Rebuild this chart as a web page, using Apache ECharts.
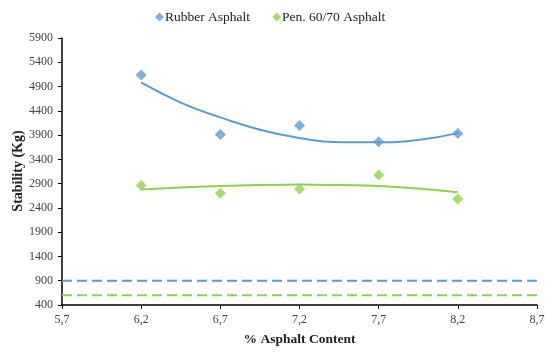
<!DOCTYPE html>
<html><head><meta charset="utf-8">
<script src="https://cdn.jsdelivr.net/npm/echarts@6/dist/echarts.min.js"></script>
<style>html,body{margin:0;padding:0;background:#fff}#c{width:545px;height:352px}</style>
</head><body><div id="c"></div>
<script>
const asphaltContent = [6.2, 6.7, 7.2, 7.7, 8.2];
const rubberStability = [5140, 3910, 4100, 3765, 3935];
const penStability = [2860, 2700, 2790, 3080, 2585];
// trendlines
const trendX = [6.2, 6.45, 6.7, 6.95, 7.2, 7.45, 7.7, 7.95, 8.2];
const rubberTrend = [4985, 4570, 4265, 4010, 3841, 3755, 3750, 3800, 3940];
const penTrend = [2777, 2820, 2850, 2870, 2880, 2870, 2850, 2800, 2725];
const limitX = [5.7, 8.7];
const rubberLimit = 900;
const penLimit = 600;
const yTitle = 'Stability (Kg)';
const blue = '#5B9BD5', green = '#92D050';
const serif = '"Liberation Serif", "Times New Roman", serif';

const pair = (xs, ys) => xs.map((x, i) => [x, ys[i]]);
const chart = echarts.init(document.getElementById('c'));
chart.setOption({
  animation: false,
  textStyle: { fontFamily: serif },
  legend: {
    data: ['Rubber Asphalt', 'Pen. 60/70 Asphalt'],
    top: 5, left: 150,
    itemWidth: 9, itemHeight: 9, itemGap: 22,
    icon: 'diamond',
    textStyle: { fontFamily: serif, fontSize: 13.5, color: '#222', padding: [0, 0, 0, -4] }
  },
  graphic: [{
    type: 'text', x: 18, y: 171, rotation: Math.PI / 2,
    style: { text: yTitle, fontFamily: serif, fontWeight: 'bold', fontSize: 14, fill: '#222',
      align: 'center', verticalAlign: 'middle' }
  }],
  grid: { left: 62, right: 8, top: 38, bottom: 47, containLabel: false, outerBoundsMode: 'none' },
  xAxis: {
    type: 'value', min: 5.7, max: 8.7, interval: 0.5,
    name: '% Asphalt Content', nameLocation: 'middle', nameGap: 28,
    nameTextStyle: { fontFamily: serif, fontWeight: 'bold', fontSize: 13.5, color: '#222' },
    axisLine: { lineStyle: { color: '#000', width: 1.5 } },
    axisTick: { show: true, length: 4, lineStyle: { color: '#000' } },
    axisLabel: { fontFamily: serif, fontSize: 12, color: '#444', margin: 9,
      formatter: v => (Math.round(v * 10) / 10).toFixed(1).replace('.', ',') },
    splitLine: { show: false }
  },
  yAxis: {
    type: 'value', min: 400, max: 5900, interval: 500,
    axisLine: { show: true, lineStyle: { color: '#000', width: 1.5 } },
    axisTick: { show: true, length: 4, lineStyle: { color: '#000' } },
    axisLabel: { fontFamily: serif, fontSize: 12, color: '#444', margin: 9,
      formatter: v => String(Math.round(v)) },
    splitLine: { show: false }
  },
  series: [
    { name: 'Rubber Limit', type: 'line', data: pair(limitX, [rubberLimit, rubberLimit]),
      showSymbol: false, lineStyle: { color: blue, width: 2, type: [10, 5] }, silent: true },
    { name: 'Pen Limit', type: 'line', data: pair(limitX, [penLimit, penLimit]),
      showSymbol: false, lineStyle: { color: green, width: 2, type: [10, 5] }, silent: true },
    { name: 'Rubber Trend', type: 'line', smooth: true, data: pair(trendX, rubberTrend),
      showSymbol: false, lineStyle: { color: blue, width: 2 } },
    { name: 'Pen Trend', type: 'line', smooth: true, data: pair(trendX, penTrend),
      showSymbol: false, lineStyle: { color: green, width: 2 } },
    { name: 'Rubber Asphalt', type: 'scatter', symbol: 'diamond', symbolSize: 11,
      itemStyle: { color: blue }, data: pair(asphaltContent, rubberStability), z: 5 },
    { name: 'Pen. 60/70 Asphalt', type: 'scatter', symbol: 'diamond', symbolSize: 11,
      itemStyle: { color: green }, data: pair(asphaltContent, penStability), z: 5 }
  ]
});
</script></body></html>
